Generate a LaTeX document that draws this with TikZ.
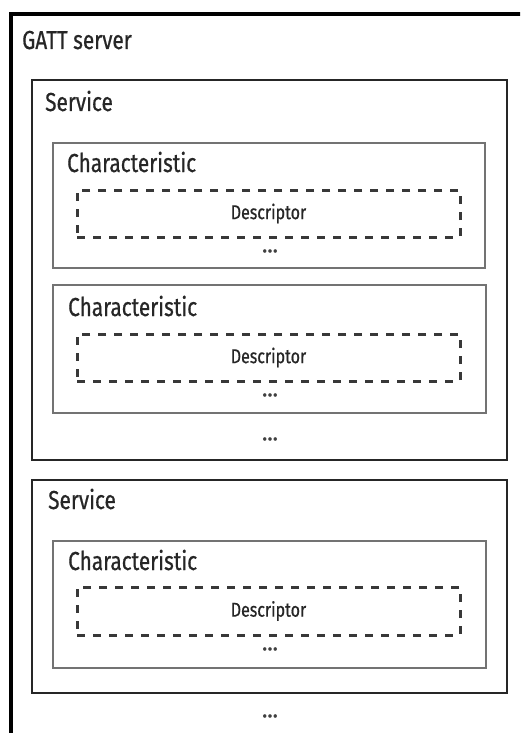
\documentclass[tikz,border=0pt]{standalone}
\usepackage{fontspec}
\setmainfont{Fira Sans}[FakeStretch=0.8, FakeBold=0.6]
\newfontfamily\dotfont{Fira Sans}[FakeBold=1.5]
\begin{document}
\begin{tikzpicture}[x=1pt,y=-1pt,
  box/.style={rectangle, anchor=north west, inner sep=0pt, outer sep=0pt},
  outerbox/.style={box, draw=black, line width=3.4pt},
  svcbox/.style={box, draw=black!85, line width=2.8pt},
  charbox/.style={box, draw=black!55, line width=2.2pt},
  descbox/.style={box, draw=black!78, line width=3pt, dash pattern=on 8pt off 8pt},
  lbl/.style={anchor=base west, inner sep=0pt, font=\fontsize{26}{30}\selectfont, text=black!85},
  desc/.style={inner sep=0pt, font=\fontsize{20}{24}\selectfont, text=black!85},
  dots/.style={inner sep=0pt, font=\dotfont\fontsize{22}{26}\selectfont, text=black!75}]
\useasboundingbox (0,0) rectangle (520,733);
\clip (0,0) rectangle (520,733);
\fill[white] (0,0) rectangle (520,733);
% outer GATT server box (runs past the right and bottom edges)
\node[outerbox, minimum width=540pt, minimum height=760pt] (gatt) at (11,14) {};
\node[lbl] (gattlbl) at (22,49) {GATT server};
% service 1
\node[svcbox, minimum width=475pt, minimum height=380pt] (s1) at (32,80) {};
\node[lbl] (s1lbl) at (45,111) {Service};
\node[charbox, minimum width=432pt, minimum height=125pt] (c1) at (53,143) {};
\node[lbl] (c1lbl) at (67,172) {Characteristic};
\node[descbox, minimum width=383pt, minimum height=47pt] (d1) at (77,190) {};
\node[desc] (d1lbl) at (d1.center) {Descriptor};
\node[dots] (c1dots) at (270,251) {...};
\node[charbox, minimum width=433pt, minimum height=128pt] (c2) at (53,285) {};
\node[lbl] (c2lbl) at (68,316) {Characteristic};
\node[descbox, minimum width=383pt, minimum height=47pt] (d2) at (77,334) {};
\node[desc] (d2lbl) at (d2.center) {Descriptor};
\node[dots] (c2dots) at (270,395) {...};
\node[dots] (s1dots) at (270,439) {...};
% service 2
\node[svcbox, minimum width=475pt, minimum height=213pt] (s2) at (32,480) {};
\node[lbl] (s2lbl) at (48,509) {Service};
\node[charbox, minimum width=433pt, minimum height=127pt] (c3) at (53,541) {};
\node[lbl] (c3lbl) at (68,570) {Characteristic};
\node[descbox, minimum width=383pt, minimum height=48pt] (d3) at (77,587) {};
\node[desc] (d3lbl) at (d3.center) {Descriptor};
\node[dots] (c3dots) at (270,649) {...};
\node[dots] (gdots) at (270,716) {...};
\end{tikzpicture}
\end{document}
